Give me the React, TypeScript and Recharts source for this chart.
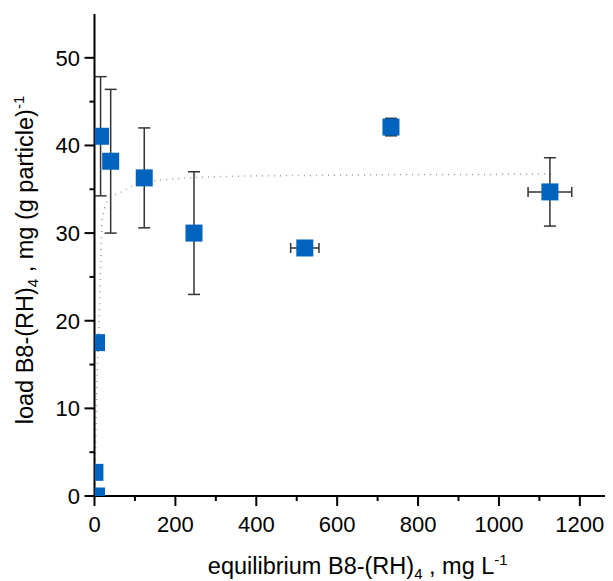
import React from 'react';
import { ComposedChart, Scatter, Line, XAxis, YAxis, ErrorBar } from 'recharts';

// ---- data ----
const conc = [5, 1, 5, 15, 40, 123, 246, 520, 733, 1126];
const load = [0, 2.7, 17.5, 41.05, 38.2, 36.3, 30.0, 28.3, 42.1, 34.7];
const loadErr = [null, null, null, 6.8, 8.2, 5.7, 7.0, null, 1.0, 3.9];
const concErr = [null, null, null, null, null, null, null, 35, null, 54];
// small error bars that are drawn over the markers
const loadErrOnTop = [null, null, null, null, null, null, null, 0.36, null, null];

const fitConc = [0, 2, 5, 9, 13, 15, 17, 19, 25, 38, 63, 105, 200, 360, 600, 800, 1000, 1130];
const fitLoad = [0, 3.5, 11, 17.5, 22.5, 26, 29, 31.5, 32.8, 34, 34.6, 35.6, 36.2, 36.5, 36.6, 36.7, 36.7, 36.75];

const xTicks = [0, 100, 200, 300, 400, 500, 600, 700, 800, 900, 1000, 1100, 1200];
const yTicks = [0, 5, 10, 15, 20, 25, 30, 35, 40, 45, 50];

// ---- layout ----
const W = 605;
const H = 573;
const TOP = 6;
const LEFT = 86.5;
const XAXIS_H = 85;
const PLOT_W = W - LEFT;
const PLOT_H = H - TOP - XAXIS_H;
const X_MAX = 1282;
const Y_MAX = 55;
const FONT = '"Liberation Sans", Arial, sans-serif';
const BLUE = '#0064bf';
const SQ = 17;

const points = conc.map((x, i) => ({ x, y: load[i], ey: loadErr[i], ex: concErr[i] }));
const topPoints = conc
  .map((x, i) => ({ x, y: load[i], ey: loadErrOnTop[i] }))
  .filter((p) => p.ey != null);
const fit = fitConc.map((x, i) => ({ x, y: fitLoad[i] }));

const PX_X = PLOT_W / X_MAX;
const PX_Y = PLOT_H / Y_MAX;

function Square(props: any) {
  const { cx, cy, payload } = props;
  if (cx == null || cy == null) return null;
  const left = Math.max(cx - SQ / 2, cx - payload.x * PX_X);
  const bottom = Math.min(cy + SQ / 2, cy + payload.y * PX_Y);
  const top = cy - SQ / 2;
  const right = cx + SQ / 2;
  return <rect x={left} y={top} width={right - left} height={bottom - top} fill={BLUE} />;
}

function Empty() {
  return <g />;
}

function XTick(props: any) {
  const { x, y, payload } = props;
  const v = payload.value;
  const major = v % 200 === 0;
  return (
    <g>
      <line x1={x} y1={y} x2={x} y2={y + (major ? 10 : 5)} stroke="#000" strokeWidth={2} />
      {major && (
        <text x={x} y={y + 36} textAnchor="middle" fontSize={22} fontFamily={FONT} fill="#000">
          {v}
        </text>
      )}
    </g>
  );
}

function YTick(props: any) {
  const { x, y, payload } = props;
  const v = payload.value;
  const major = v % 10 === 0;
  return (
    <g>
      <line x1={x} y1={y} x2={x - (major ? 10 : 5)} y2={y} stroke="#000" strokeWidth={2} />
      {major && (
        <text x={x - 14.5} y={y} dy="0.36em" textAnchor="end" fontSize={22} fontFamily={FONT} fill="#000">
          {v}
        </text>
      )}
    </g>
  );
}

function XLabel() {
  const cx = LEFT + PLOT_W / 2 + 4;
  const y = TOP + PLOT_H + 78;
  return (
    <text x={cx} y={y} textAnchor="middle" fontSize={23.5} fontFamily={FONT} fill="#000">
      equilibrium B8-(RH)
      <tspan fontSize={15} dy={5}>4</tspan>
      <tspan dy={-5}>{' , mg L'}</tspan>
      <tspan fontSize={15} dy={-9}>-1</tspan>
    </text>
  );
}

function YLabel() {
  const x = 24.5;
  const y = TOP + PLOT_H / 2 + 5;
  return (
    <text
      x={x}
      y={y}
      transform={`rotate(-90, ${x}, ${y})`}
      textAnchor="middle"
      fontSize={23.5}
      fontFamily={FONT}
      fill="#000"
    >
      load B8-(RH)
      <tspan fontSize={15} dy={5}>4</tspan>
      <tspan dy={-5}>{' , mg (g particle)'}</tspan>
      <tspan fontSize={15} dy={-9}>-1</tspan>
    </text>
  );
}

export default function App() {
  return (
    <div style={{ width: W, height: H }}>
      <style>{'html, body { overflow: hidden; }'}</style>
      <ComposedChart width={W} height={H} margin={{ top: TOP, right: 0, bottom: 0, left: 0 }}>
        <XAxis
          xAxisId="top"
          orientation="top"
          type="number"
          domain={[0, X_MAX]}
          allowDataOverflow
          ticks={[]}
          tick={false}
          tickLine={false}
          height={0}
          axisLine={{ stroke: '#000', strokeWidth: 2 }}
        />
        <XAxis
          type="number"
          dataKey="x"
          domain={[0, X_MAX]}
          allowDataOverflow
          ticks={xTicks}
          interval={0}
          tickSize={0}
          tickMargin={0}
          tickLine={false}
          tick={<XTick />}
          height={XAXIS_H}
          axisLine={{ stroke: '#000', strokeWidth: 2 }}
          label={<XLabel />}
        />
        <YAxis
          type="number"
          dataKey="y"
          domain={[0, Y_MAX]}
          allowDataOverflow
          ticks={yTicks}
          interval={0}
          tickSize={0}
          tickMargin={0}
          tickLine={false}
          tick={<YTick />}
          width={LEFT}
          axisLine={{ stroke: '#000', strokeWidth: 2 }}
          label={<YLabel />}
        />
        <Line
          data={fit}
          dataKey="y"
          type="monotone"
          dot={false}
          activeDot={false}
          stroke="#9a9a9a"
          strokeWidth={1.5}
          strokeDasharray="1 5"
          isAnimationActive={false}
        />
        <Scatter data={points} dataKey="y" shape={<Square />} isAnimationActive={false}>
          <ErrorBar dataKey="ey" direction="y" width={6} stroke="#333" strokeWidth={1.5} />
          <ErrorBar dataKey="ex" direction="x" width={5} stroke="#333" strokeWidth={1.5} />
        </Scatter>
        <Scatter data={topPoints} dataKey="y" shape={<Empty />} isAnimationActive={false}>
          <ErrorBar dataKey="ey" direction="y" width={6} stroke="#111" strokeWidth={1.5} />
        </Scatter>
      </ComposedChart>
    </div>
  );
}
